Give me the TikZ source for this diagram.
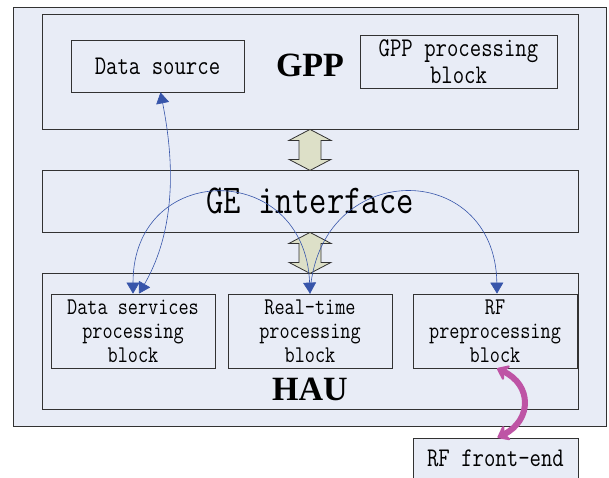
\documentclass[tikz,border=0pt]{standalone}
\usepackage{fontspec}
\setmainfont{Liberation Serif}
\newfontfamily\monofont[FakeStretch=0.82]{Latin Modern Mono}
\usetikzlibrary{arrows.meta}

\definecolor{panel}{RGB}{232,236,246}
\definecolor{edge}{RGB}{50,50,50}
\definecolor{linkblue}{RGB}{55,85,170}
\definecolor{rfpink}{RGB}{190,84,165}
\definecolor{busfill}{RGB}{221,224,200}

\tikzset{
  box/.style={draw=edge, fill=panel, rectangle, inner sep=0pt, line width=0.8pt},
  bigtext/.style={font=\monofont\fontsize{27}{27}\selectfont, align=center},
  blocktext/.style={font=\monofont\fontsize{24}{24}\selectfont, align=center},
  title/.style={font=\bfseries\fontsize{34}{34}\selectfont},
  link/.style={draw=linkblue, line width=0.6pt, >={Triangle[length=11pt,width=13pt]}},
  rflink/.style={draw=rfpink, line width=6pt, >={Stealth[round,length=13pt,width=20pt]}},
  busarrow/.style={draw=edge, fill=busfill, line width=0.8pt, line join=miter}
}

\begin{document}
\begin{tikzpicture}[x=1pt, y=-1pt]
        \useasboundingbox (0,0) rectangle (609,477);

        % Outer frame
        \node[box, minimum width=593pt, minimum height=419pt] (frame) at (309.5,216.5) {};

        % GPP
        \node[box, minimum width=536pt, minimum height=115pt] (gpp) at (310,71.5) {};
        \node[title] (gpplabel) at (310,65) {GPP};
        \node[box, bigtext, minimum width=173pt, minimum height=52pt] (source) at (157.5,66) {Data source};
        \node[box, bigtext, minimum width=197pt, minimum height=53pt] (gppblock) at (458.5,61.5) {GPP processing\\block};

        % GE interface
        \node[box, minimum width=536pt, minimum height=62pt, font=\monofont\fontsize{41}{41}\selectfont] (ge) at (310,201) {GE interface};

        % HAU
        \node[box, minimum width=536pt, minimum height=136pt] (hau) at (310,341) {};
        \node[title] (haulabel) at (310,389) {HAU};
        \node[box, blocktext, minimum width=164pt, minimum height=74pt] (dataserv) at (133,331) {Data services\\processing\\block};
        \node[box, blocktext, minimum width=164pt, minimum height=74pt] (realtime) at (310,331) {Real-time\\processing\\block};
        \node[box, blocktext, minimum width=164pt, minimum height=74pt] (rfpre) at (495,331) {RF\\preprocessing\\block};

        % RF front-end
        \node[box, bigtext, minimum width=165pt, minimum height=40pt] (frontend) at (495.5,458) {RF front-end};

        % Bus arrows
        \foreach \n in {gpp, ge}
          \filldraw[busarrow] (\n.south) -- ++(21,11) -- ++(-10,0) -- ++(0,19) -- ++(10,0) -- ++(-21,11)
            -- ++(-21,-11) -- ++(10,0) -- ++(0,-19) -- ++(-10,0) -- cycle;

        % Links
        \draw[link, <->] ([xshift=3pt]source.south) .. controls (178,180) and (170,240) .. ([xshift=6pt]dataserv.north);
        \draw[link, <->] (dataserv.north) .. controls (133,160) and (305,160) .. (realtime.north);
        \draw[link, ->] (realtime.north) .. controls (318,158) and (495,158) .. ([xshift=2pt]rfpre.north);
        \draw[rflink, <->] ([xshift=2pt]rfpre.south) .. controls (532,385) and (532,420) .. ([xshift=2pt]frontend.north);
    \end{tikzpicture}
\end{document}
